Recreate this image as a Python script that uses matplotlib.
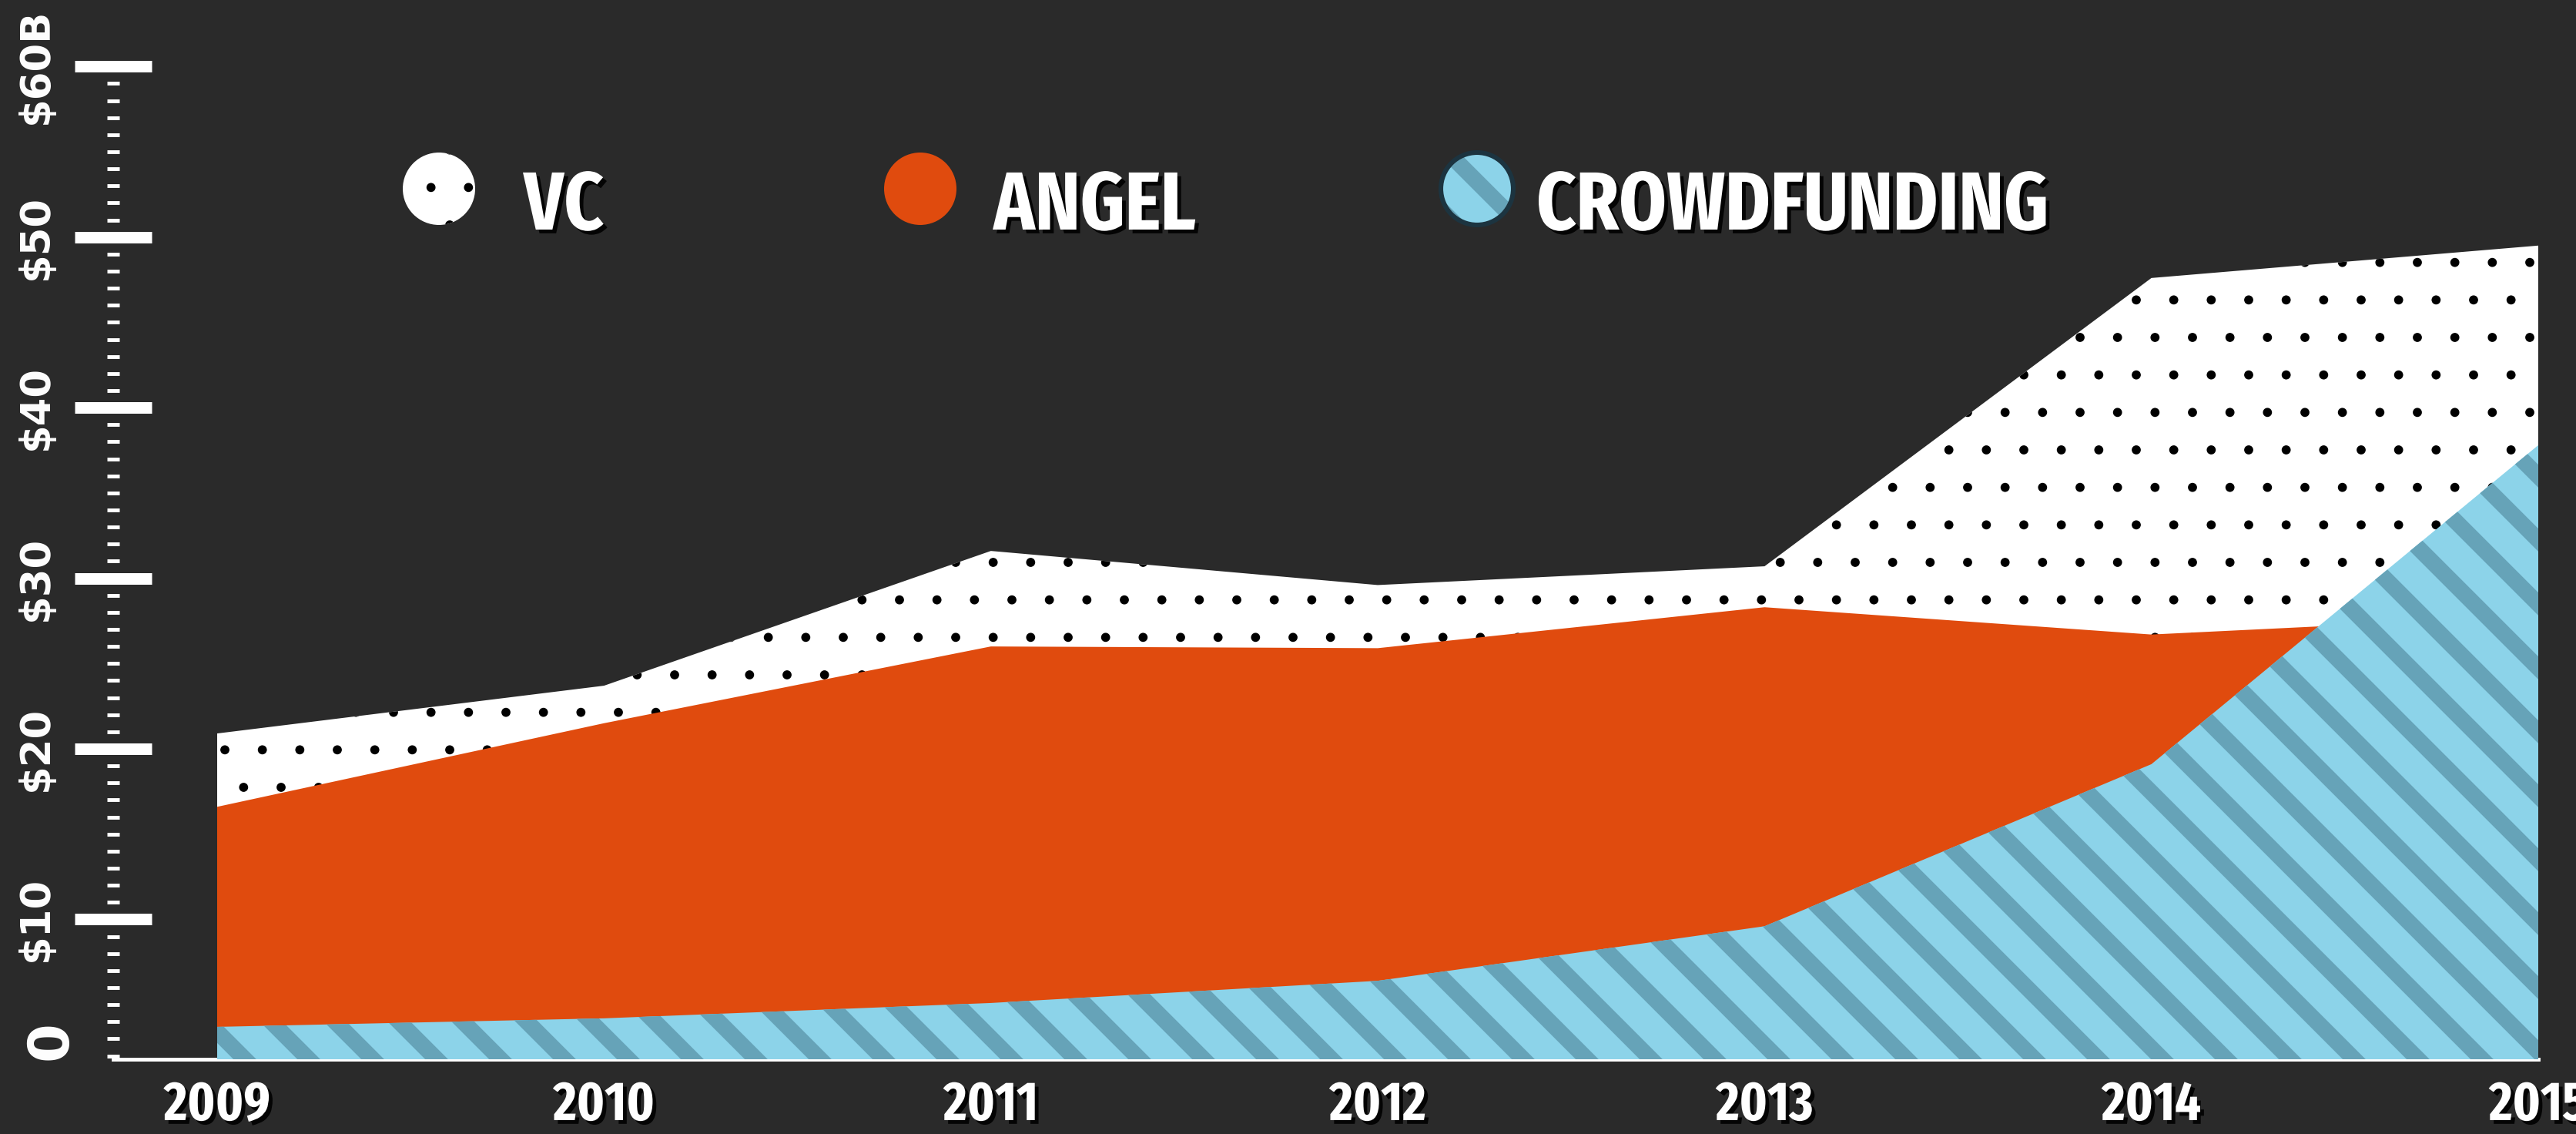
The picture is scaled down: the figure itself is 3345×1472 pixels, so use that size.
import os
import matplotlib
matplotlib.use('Agg')
import matplotlib.pyplot as plt
import matplotlib.patches as mpatches
import matplotlib.patheffects as pe
import matplotlib.transforms as mtransforms
from matplotlib import font_manager as fm
from matplotlib.collections import LineCollection
from matplotlib.ticker import FixedLocator
import numpy as np

# values ($B, on the axis' own scale)
years = [2009, 2010, 2011, 2012, 2013, 2014, 2015]
vc = [20.9, 23.7, 31.6, 29.6, 30.7, 47.6, 49.5]
angel = [16.6, 21.5, 26.0, 25.9, 28.3, 26.7, 27.8]
crowdfunding = [3.7, 4.2, 5.1, 6.4, 9.6, 19.1, 37.8]
series = ['VC', 'ANGEL', 'CROWDFUNDING']
ytick_vals = [10, 20, 30, 40, 50, 60]
ytick_labels = [r'\$10', r'\$20', r'\$30', r'\$40', r'\$50', r'\$60B']
base = 1.8

BG = '#2a2a2a'
ORANGE = '#e04b0e'
BLUE = '#8cd3e9'
BLUE_DK = '#66a3b8'
DPI = 292
W_PX, H_PX = 3345, 1472

plt.rcParams['hatch.linewidth'] = 0.5
plt.rcParams['hatch.color'] = 'black'
shadow = [pe.withSimplePatchShadow(offset=(1.2, -1.2), shadow_rgbFace='black', alpha=0.9)]


def pick_condensed():
    # look for a bold condensed face among the installed fonts
    fonts = []
    for f in fm.fontManager.ttflist:
        b = os.path.basename(f.fname).lower().replace('-', '').replace('_', '').replace(' ', '')
        fonts.append((b, f.fname))
    def ok_bold(b):
        return 'bold' in b and not any(k in b for k in ['extrabold', 'semibold', 'italic', 'oblique', 'black'])
    for key, bad in [('extracondensedbold', []), ('condensedbold', ['semi', 'extra', 'ultra']),
                     ('narrowbold', []), ('condbold', ['semi', 'extra'])]:
        for b, path in sorted(fonts):
            if key in b and ok_bold(b) and not any(k in b for k in bad):
                return fm.FontProperties(fname=path)
    return fm.FontProperties(family='DejaVu Sans', weight='bold')


cond = pick_condensed()

fig = plt.figure(figsize=(W_PX / DPI, H_PX / DPI), dpi=DPI, facecolor=BG)
ax = fig.add_axes([147 / W_PX, 97 / H_PX, 3149 / W_PX, 1333 / H_PX])
ax.set_facecolor(BG)


def stripes(clip, clip_trans=None, zorder=3.5):
    w, h = fig.get_size_inches()
    period = 83 / DPI
    cs = np.arange(0, w + h + period, period)
    segs = [[(c, 0), (c - h, h)] for c in cs]
    lc = LineCollection(segs, colors=BLUE_DK, linewidths=21 * 72 / DPI,
                        transform=fig.dpi_scale_trans, zorder=zorder, capstyle='butt')
    if clip_trans is None:
        lc.set_clip_path(clip)
    else:
        lc.set_clip_path(clip, clip_trans)
    return lc


def fit_width(txt, target_px, max_size):
    r = fig.canvas.get_renderer()
    fs = txt.get_fontsize()
    w = txt.get_window_extent(r).width
    txt.set_fontsize(min(max_size, fs * target_px / w))
    return txt.get_fontsize()


ax.fill_between(years, base, vc, facecolor='white', edgecolor='black',
                linewidth=0, hatch='.', zorder=1)
ax.fill_between(years, base, angel, facecolor=ORANGE, linewidth=0, zorder=2)
cf = ax.fill_between(years, base, crowdfunding, facecolor=BLUE, linewidth=0, zorder=3)
ax.add_collection(stripes(cf.get_paths()[0], ax.transData), autolim=False)

ax.set_xlim(2009 - 135 / 502.3, 2015)
ax.set_ylim(base, 62)

for s in ['top', 'right', 'left']:
    ax.spines[s].set_visible(False)
ax.spines['bottom'].set_color('white')
ax.spines['bottom'].set_linewidth(1.2)

ax.set_xticks(years)
ax.set_xticklabels([str(y) for y in years])
ax.tick_params(axis='x', length=0, pad=6, labelcolor='white')
xl = ax.get_xticklabels()
for lbl in xl:
    lbl.set_fontproperties(cond)
    lbl.set_fontsize(19)
    lbl.set_path_effects(shadow)
xfs = fit_width(xl[0], 138, 24)
for lbl in xl:
    lbl.set_fontsize(xfs)

ax.set_yticks(ytick_vals)
ax.set_yticklabels(ytick_labels)
ax.yaxis.set_minor_locator(FixedLocator([v for v in range(2, 60) if v % 10]))
ax.tick_params(axis='y', which='major', direction='inout', length=24.6, width=3.7,
               color='white', pad=6, labelsize=13, labelcolor='white', labelrotation=90)
ax.tick_params(axis='y', which='minor', direction='inout', length=3.9, width=1.2, color='white')
for lbl in ax.get_yticklabels():
    lbl.set_fontweight('bold')
    lbl.set_va('center')

ax.text(-81 / 3149, base + 1.1, '0', transform=mtransforms.blended_transform_factory(ax.transAxes, ax.transData),
        rotation=90, ha='center', va='center', fontsize=18, fontweight='bold', color='white')

# legend
leg_y = H_PX - 245
circle_x = [570, 1195, 1918]
text_x = [680, 1290, 1995]
r = 47
legend_texts = []
for i, name in enumerate(series):
    center = (circle_x[i] / DPI, leg_y / DPI)
    if name == 'VC':
        c = mpatches.Circle(center, r / DPI, facecolor='white', edgecolor='black', linewidth=0,
                            hatch='.', transform=fig.dpi_scale_trans)
        fig.add_artist(c)
    elif name == 'ANGEL':
        c = mpatches.Circle(center, r / DPI, facecolor=ORANGE, linewidth=0,
                            transform=fig.dpi_scale_trans)
        fig.add_artist(c)
    else:
        c = mpatches.Circle(center, r / DPI, facecolor=BLUE, linewidth=0,
                            transform=fig.dpi_scale_trans, zorder=1)
        fig.add_artist(c)
        fig.add_artist(stripes(c, zorder=1.5))
        ring = mpatches.Circle(center, r / DPI, fill=False, edgecolor='#1c3440', linewidth=1.5,
                               transform=fig.dpi_scale_trans, zorder=2)
        fig.add_artist(ring)
    t = fig.text(text_x[i] / W_PX, 1 - 298 / H_PX, name, ha='left', va='baseline',
                 fontproperties=cond, color='white', path_effects=shadow)
    t.set_fontsize(25)
    legend_texts.append(t)

lfs = fit_width(legend_texts[-1], 665, 34)
for t in legend_texts:
    t.set_fontsize(lfs)

fig.savefig('out.png', dpi=DPI, facecolor=BG)
